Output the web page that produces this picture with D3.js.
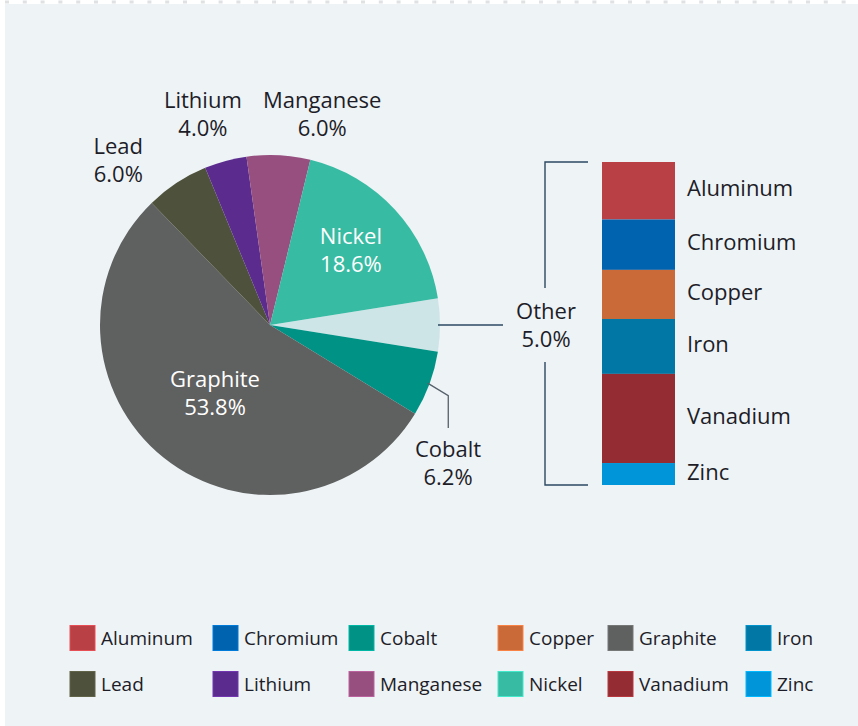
<!DOCTYPE html>
<html>
<head>
<meta charset="utf-8">
<script src="https://cdn.jsdelivr.net/npm/d3@7"></script>
<style>
  html, body { margin: 0; padding: 0; background: #fff; }
  svg { display: block; }
  text { font-family: "Open Sans", "Noto Sans", sans-serif; fill: #1d1d28; }
</style>
</head>
<body>
<svg id="chart" width="858" height="726"></svg>
<script>
// pie data (clockwise from the "Other" slice which sits at 3 o'clock)
const pieLabels = ["Other", "Cobalt", "Graphite", "Lead", "Lithium", "Manganese", "Nickel"];
const pieValues = [5.0, 6.2, 53.8, 6.0, 4.0, 6.0, 18.6];

// breakdown of "Other"
const otherLabels = ["Aluminum", "Chromium", "Copper", "Iron", "Vanadium", "Zinc"];
const otherValues = [0.89, 0.78, 0.76, 0.85, 1.38, 0.34];

const legendLabels = ["Aluminum", "Chromium", "Cobalt", "Copper", "Graphite", "Iron",
                      "Lead", "Lithium", "Manganese", "Nickel", "Vanadium", "Zinc"];

const colors = {
  Aluminum: "#b94045", Chromium: "#0063b0", Cobalt: "#009385", Copper: "#c96a38",
  Graphite: "#5f6060", Iron: "#0077a5", Lead: "#4e513b", Lithium: "#5b2c8e",
  Manganese: "#964f7f", Nickel: "#37bba3", Vanadium: "#942d33", Zinc: "#0095d8",
  Other: "#cee5e8"
};

var svg = d3.select("#chart");
var W = 858, H = 726;

// panel + dotted top border
svg.append("rect").attr("x", 5).attr("y", 4).attr("width", W - 5).attr("height", H - 4)
   .attr("fill", "#eef3f6");
svg.append("g").selectAll("rect")
   .data(d3.range(0, 49))
   .join("rect")
   .attr("x", d => 5 + d * 17.8).attr("y", 0.5)
   .attr("width", 4).attr("height", 3)
   .attr("fill", "#dfe1e3");

//
// pie
//
var cx = 270, cy = 325, R = 170;
var total = d3.sum(pieValues);
var start = Math.PI / 2 - Math.PI * pieValues[0] / total;

var pie = d3.pie().sort(null).startAngle(start).endAngle(start + 2 * Math.PI);
var arcs = pie(pieValues);
var arc = d3.arc().innerRadius(0).outerRadius(R);

var gPie = svg.append("g").attr("transform", "translate(" + cx + "," + cy + ")");
gPie.selectAll("path")
    .data(arcs)
    .join("path")
    .attr("d", arc)
    .attr("fill", (d, i) => colors[pieLabels[i]]);

// label placement: radius + nudge, per slice (Other handled separately)
var labelPos = {
  Cobalt:    { r: 0,   dx: 178, dy: 138, inside: false },
  Graphite:  { r: 88,  dx: 0,   dy: 0,   inside: true },
  Lead:      { r: 222, dx: -30, dy: 21,  inside: false },
  Lithium:   { r: 222, dx: -9,  dy: 4,   inside: false },
  Manganese: { r: 222, dx: 41,  dy: 11,  inside: false },
  Nickel:    { r: 110, dx: 0,   dy: 0,   inside: true }
};

function twoLines(g, x, y, a, b, size, fill, weight) {
  [a, b].forEach(function(s, k) {
    g.append("text")
     .attr("text-anchor", "middle")
     .attr("x", x).attr("y", y + (k == 0 ? -14 : 14)).attr("dy", "0.35em")
     .attr("font-size", size)
     .style("fill", fill).style("font-weight", weight)
     .text(s);
  });
}

arcs.forEach(function(d, i) {
  var name = pieLabels[i];
  if (name == "Other") return;
  var p = labelPos[name];
  var x, y;
  if (name == "Cobalt") {
    x = p.dx; y = p.dy;
  } else {
    var c = d3.arc().innerRadius(p.r).outerRadius(p.r).centroid(d);
    x = c[0] + p.dx; y = c[1] + p.dy;
  }
  twoLines(gPie, x, y, name, d3.format(".1f")(pieValues[i]) + "%", 22,
           p.inside ? "#ffffff" : "#1d1d28", p.inside ? 500 : 400);
});

// cobalt leader
(function() {
  var d = arcs[1];
  var mid = (d.startAngle + d.endAngle) / 2;
  var p0 = [Math.sin(mid) * (R - 2), -Math.cos(mid) * (R - 2)];
  var p1 = [Math.sin(mid) * (R + 20), -Math.cos(mid) * (R + 20) + 5];
  gPie.append("path")
      .attr("d", d3.line()([p0, p1, [p1[0], 103]]))
      .attr("fill", "none").attr("stroke", "#56606a").attr("stroke-width", 1.3);
})();

//
// "Other" stacked bar
//
var barX = 602, barW = 73, barTop = 162, barBot = 485;
var y = d3.scaleLinear().domain([0, d3.sum(otherValues)]).range([barTop, barBot]);
var cum = d3.cumsum(otherValues);
var segs = otherValues.map((v, i) => ({ name: otherLabels[i], y0: cum[i] - v, y1: cum[i] }));

var gBar = svg.append("g");
gBar.selectAll("rect")
    .data(segs)
    .join("rect")
    .attr("x", barX).attr("width", barW)
    .attr("y", d => y(d.y0)).attr("height", d => y(d.y1) - y(d.y0))
    .attr("fill", d => colors[d.name]);
gBar.selectAll("text")
    .data(segs)
    .join("text")
    .attr("x", barX + barW + 12)
    .attr("y", d => (y(d.y0) + y(d.y1)) / 2 - 2)
    .attr("dy", "0.35em")
    .attr("font-size", 22)
    .text(d => d.name);

// bracket + leader from the Other slice
var bx = 545, bTick = 588, otherMidY = 325;
var lineCol = "#2c4862";
svg.append("path")
   .attr("d", d3.line()([[bTick, barTop], [bx, barTop], [bx, 288]]))
   .attr("fill", "none").attr("stroke", lineCol).attr("stroke-width", 1.4);
svg.append("path")
   .attr("d", d3.line()([[bx, 362], [bx, barBot], [bTick, barBot]]))
   .attr("fill", "none").attr("stroke", lineCol).attr("stroke-width", 1.4);
svg.append("line")
   .attr("x1", cx + R - 2).attr("x2", 503)
   .attr("y1", otherMidY).attr("y2", otherMidY)
   .attr("stroke", lineCol).attr("stroke-width", 1.4);
twoLines(svg, bx + 1, 325, pieLabels[0], d3.format(".1f")(pieValues[0]) + "%", 22, "#1d1d28", 400);

//
// legend
//
var colX = [70, 213, 349, 498, 608, 746];
var rowY = [638, 684];
var gLeg = svg.append("g");
legendLabels.forEach(function(name, i) {
  var gx = colX[i % 6], gy = rowY[Math.floor(i / 6)];
  gLeg.append("rect")
      .attr("x", gx).attr("y", gy - 12.5).attr("width", 25).attr("height", 25)
      .attr("fill", colors[name])
      .attr("stroke", d3.color(colors[name]).brighter(0.6)).attr("stroke-width", 1);
  gLeg.append("text")
      .attr("x", gx + 31).attr("y", gy).attr("dy", "0.35em")
      .attr("font-size", 19)
      .text(name);
});
</script>
</body>
</html>
